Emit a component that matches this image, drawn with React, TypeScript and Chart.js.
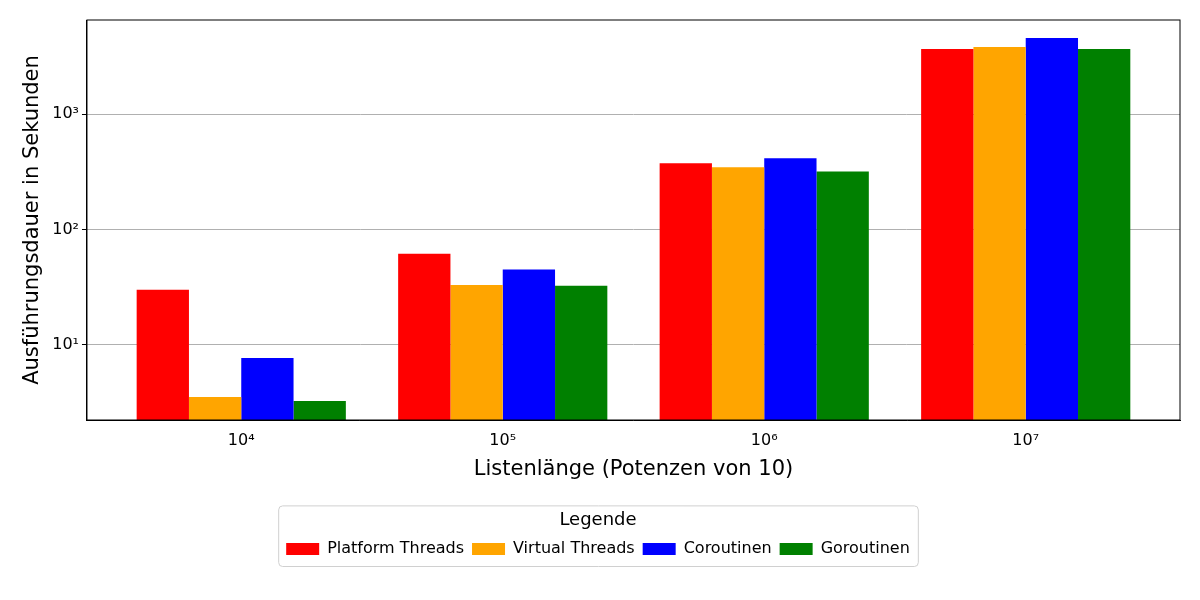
import React, { useEffect, useRef } from 'react';
import { Chart, registerables } from 'chart.js';

Chart.register(...registerables);

const categories = ['10⁴', '10⁵', '10⁶', '10⁷'];
const platformThreads = [30, 61.8, 375, 3670];
const virtualThreads = [3.53, 33, 346, 3825];
const coroutinen = [7.7, 45, 414, 4580];
const goroutinen = [3.26, 32.6, 319, 3670];
const yTicks = [10, 100, 1000];
const yLabels: Record<number, string> = { 10: '10¹', 100: '10²', 1000: '10³' };

const font = 'DejaVu Sans';

const framePlugin = {
  id: 'frame',
  afterDraw(chart: any) {
    const { ctx, chartArea: a, legend } = chart;
    ctx.save();
    ctx.strokeStyle = '#000';
    ctx.lineWidth = 1;
    ctx.strokeRect(a.left, a.top, a.right - a.left, a.bottom - a.top);
    if (legend && legend.legendHitBoxes?.length) {
      const hb = legend.legendHitBoxes;
      const l = Math.min(...hb.map((h: any) => h.left)) - 8;
      const r = Math.max(...hb.map((h: any) => h.left + h.width)) + 8;
      ctx.strokeStyle = '#d0d0d0';
      ctx.beginPath();
      ctx.roundRect(l + 0.5, legend.top + 0.5, r - l, legend.height - 1, 4);
      ctx.stroke();
    }
    ctx.restore();
  },
};

const App: React.FC = () => {
  const chartRef = useRef<HTMLCanvasElement | null>(null);

  useEffect(() => {
    let chartInstance: Chart | null = null;
    if (chartRef.current) {
      const ds = (label: string, data: number[], color: string) => ({
        label,
        data: data.map((y, i) => ({ x: i, y })),
        backgroundColor: color,
        borderWidth: 0,
        categoryPercentage: 0.8,
        barPercentage: 1,
      });
      chartInstance = new Chart(chartRef.current, {
        type: 'bar',
        data: {
          datasets: [
            ds('Platform Threads', platformThreads, '#ff0000'),
            ds('Virtual Threads', virtualThreads, '#ffa500'),
            ds('Coroutinen', coroutinen, '#0000ff'),
            ds('Goroutinen', goroutinen, '#008000'),
          ],
        },
        options: {
          animation: false,
          responsive: false,
          layout: { padding: { left: 16, right: 20, top: 20, bottom: 33 } },
          plugins: {
            tooltip: { enabled: false },
            legend: {
              position: 'bottom',
              title: { display: true, text: 'Legende', color: '#000', font: { family: font, size: 18 }, padding: { top: 6, bottom: 0 } },
              labels: { color: '#000', font: { family: font, size: 16 }, boxWidth: 33, boxHeight: 12, padding: 8 },
            },
          },
          scales: {
            x: {
              type: 'linear',
              offset: false,
              min: -0.59,
              max: 3.59,
              afterBuildTicks: (axis: any) => {
                axis.ticks = categories.map((_, i) => ({ value: i }));
              },
              grid: { display: false, tickColor: '#000' },
              border: { color: '#000' },
              ticks: {
                color: '#000',
                font: { family: font, size: 16 },
                callback: (v: any) => categories[v as number] ?? '',
              },
              title: { display: true, text: 'Listenlänge (Potenzen von 10)', color: '#000', font: { family: font, size: 21 }, padding: { top: 4, bottom: 23 } },
            },
            y: {
              type: 'logarithmic',
              min: 2.23,
              max: 6560,
              afterBuildTicks: (axis: any) => {
                axis.ticks = yTicks.map((v) => ({ value: v }));
              },
              grid: { color: '#b0b0b0', tickColor: '#000', tickLength: 5 },
              border: { color: '#000' },
              ticks: {
                color: '#000',
                font: { family: font, size: 16 },
                callback: (v: any) => yLabels[v as number] ?? '',
              },
              title: { display: true, text: 'Ausführungsdauer in Sekunden', color: '#000', font: { family: font, size: 21 } },
            },
          },
        },
        plugins: [framePlugin],
      } as any);
    }
    return () => {
      if (chartInstance) chartInstance.destroy();
    };
  }, []);

  return (
    <div style={{ position: 'fixed', left: 0, top: 0, width: '1200px', height: '600px', background: '#fff' }}>
      <canvas ref={chartRef} width={1200} height={600}></canvas>
    </div>
  );
};

export default App;
